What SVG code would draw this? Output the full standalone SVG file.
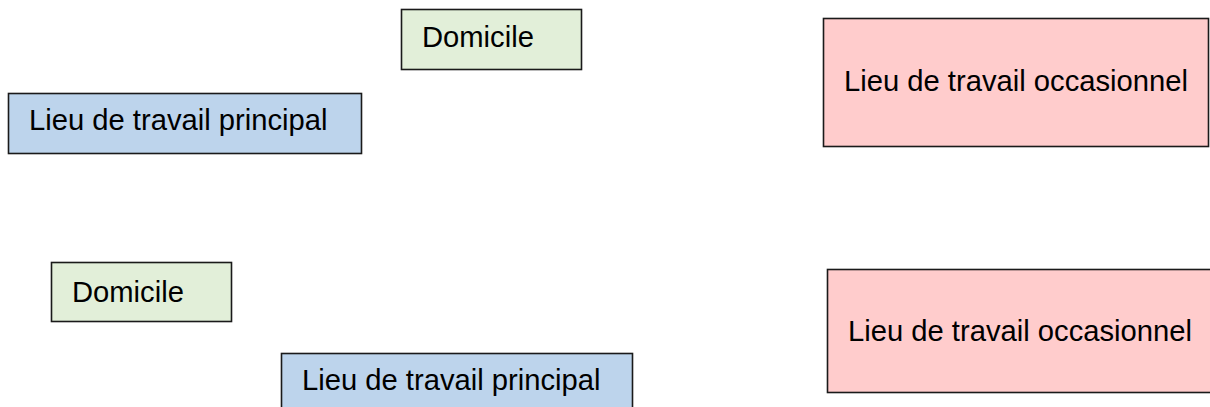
<svg xmlns="http://www.w3.org/2000/svg" width="1210" height="407" viewBox="0 0 1210 407">
<style>
rect{stroke:#1a1a1a;stroke-width:1.6}
.g{fill:#E2EFD9}.b{fill:#BDD4EC}.r{fill:#FFCCCC}
text{font-family:"Liberation Sans",Arial,sans-serif;font-size:29.2px;fill:#000}
</style>
<rect width="1210" height="407" fill="#fff" style="stroke:none"/>
<g id="domicile-1"><rect class="g" x="401.5" y="9.5" width="180" height="60"/><text x="422" y="47">Domicile</text></g>
<g id="principal-1"><rect class="b" x="8.5" y="93.5" width="353" height="60"/><text x="29" y="130">Lieu de travail principal</text></g>
<g id="occasionnel-1"><rect class="r" x="823.5" y="18.5" width="385" height="128"/><text x="844" y="91">Lieu de travail occasionnel</text></g>
<g id="domicile-2"><rect class="g" x="51.5" y="262.5" width="180" height="59"/><text x="72" y="302">Domicile</text></g>
<g id="principal-2"><rect class="b" x="281.5" y="353.5" width="351" height="60"/><text x="302" y="390">Lieu de travail principal</text></g>
<g id="occasionnel-2"><rect class="r" x="827.5" y="269.5" width="385" height="123"/><text x="848" y="341">Lieu de travail occasionnel</text></g>
<g id="connectors"/>
</svg>
